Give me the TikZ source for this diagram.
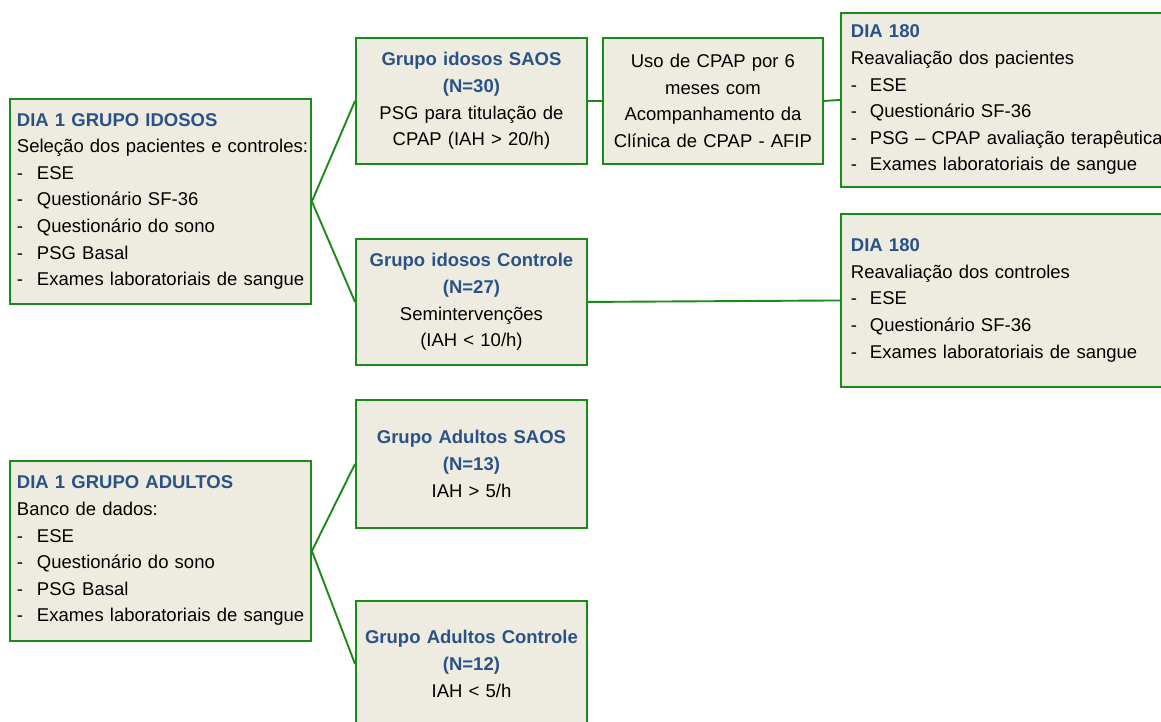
\documentclass[tikz,border=0pt]{standalone}
\usepackage{fontspec}
\setmainfont[WordSpace=0.55]{Liberation Sans}
\definecolor{boxfill}{HTML}{EEECE1}
\definecolor{boxline}{HTML}{1A8A1A}
\definecolor{headblue}{HTML}{2A5286}
\newcommand\hd[1]{\mbox{\textcolor{headblue}{\textbf{#1}}}}
\newcommand\itm[2][20pt]{\mbox{\makebox[#1][l]{-}#2}}
\begin{document}
\begin{tikzpicture}[x=1pt,y=-1pt,
  box/.style={draw=boxline, line width=1.9pt, fill=boxfill, rectangle, anchor=north west,
              inner xsep=8pt, inner ysep=0pt, font=\fontsize{18.5}{26.6}\selectfont},
  cbox/.style={box, align=center, text width=225pt, inner xsep=3pt, minimum height=126pt},
  lbox/.style={box, align=left},
  conn/.style={draw=boxline, line width=1.9pt}]
\useasboundingbox (0,0) rectangle (1161,722);
\clip (0,0) rectangle (1161,722);

\node[lbox, text width=287pt, inner xsep=7pt, minimum height=205pt] (a) at (9,98)
  {\hd{DIA 1 GRUPO IDOSOS}\\
   \mbox{Seleção dos pacientes e controles:}\\
   \itm{ESE}\\
   \itm{Questionário SF-36}\\
   \itm{Questionário do sono}\\
   \itm{PSG Basal}\\
   \itm{Exames laboratoriais de sangue}};

\node[cbox] (s1) at (355,37)
  {\hd{Grupo idosos SAOS}\\\hd{(N=30)}\\\mbox{PSG para titulação de}\\\mbox{CPAP (IAH > 20/h)}};

\node[cbox, text width=214pt] (cp) at (602,37)
  {\mbox{Uso de CPAP por 6}\\meses com\\\mbox{Acompanhamento da}\\\mbox{Clínica de CPAP - AFIP}};

\node[lbox, text width=330pt, inner xsep=10pt, minimum height=174pt] (d1) at (840,12)
  {\hd{DIA 180}\\
   \mbox{Reavaliação dos pacientes}\\
   \itm[19pt]{ESE}\\
   \itm[19pt]{Questionário SF-36}\\
   \itm[19pt]{PSG – CPAP avaliação terapêutica}\\
   \itm[19pt]{Exames laboratoriais de sangue}};

\node[cbox] (c1) at (355,238)
  {\hd{Grupo idosos Controle}\\\hd{(N=27)}\\Semintervenções\\\mbox{(IAH < 10/h)}};

\node[lbox, text width=330pt, inner xsep=10pt, minimum height=173pt] (d2) at (840,213)
  {\hd{DIA 180}\\
   \mbox{Reavaliação dos controles}\\
   \itm[19pt]{ESE}\\
   \itm[19pt]{Questionário SF-36}\\
   \itm[19pt]{Exames laboratoriais de sangue}};

\node[lbox, text width=287pt, inner xsep=7pt, minimum height=180pt] (b) at (9,460)
  {\hd{DIA 1 GRUPO ADULTOS}\\
   \mbox{Banco de dados:}\\
   \itm{ESE}\\
   \itm{Questionário do sono}\\
   \itm{PSG Basal}\\
   \itm{Exames laboratoriais de sangue}};

\node[cbox, minimum height=128pt] (s2) at (355,399)
  {\hd{Grupo Adultos SAOS}\\\hd{(N=13)}\\\mbox{IAH > 5/h}};

\node[cbox, minimum height=126pt] (c2) at (355,600)
  {\hd{Grupo Adultos Controle}\\\hd{(N=12)}\\\mbox{IAH < 5/h}};

\draw[conn] (a.east) -- (s1.west);
\draw[conn] (a.east) -- (c1.west);
\draw[conn] (s1.east) -- (cp.west);
\draw[conn] (cp.east) -- (d1.west);
\draw[conn] (c1.east) -- (d2.west);
\draw[conn] (b.east) -- (s2.west);
\draw[conn] (b.east) -- (c2.west);
\end{tikzpicture}
\end{document}
